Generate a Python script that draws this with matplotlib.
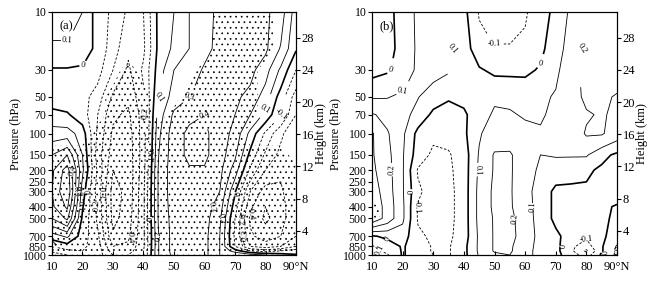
import numpy as np
import matplotlib
matplotlib.use('Agg')
import matplotlib.pyplot as plt

plt.rcParams['font.family'] = ['Liberation Serif', 'DejaVu Serif']
plt.rcParams['hatch.color'] = 'black'
plt.rcParams['hatch.linewidth'] = 0.5

# grid: latitude (deg N) and pressure levels (hPa)
lat = [10, 15, 20, 25, 30, 35, 40, 45, 50, 55, 60, 65, 70, 75, 80, 85, 90]
plev = [1000, 925, 850, 700, 500, 400, 300, 200, 150, 100, 70, 50, 30, 20, 10]

# panel (a) correlation field, one row per pressure level (1000 -> 10 hPa)
r_a = [
    [-0.25, -0.2, -0.15, -0.15, -0.3, -0.3, -0.2, 0.2, 0.33, 0.35, 0.33, 0.2, 0.2, 0.15, 0.1, 0.05, 0.01],
    [-0.18, -0.12, -0.1, -0.15, -0.35, -0.35, -0.2, 0.2, 0.34, 0.36, 0.33, 0.2, 0.05, -0.1, -0.15, -0.1, -0.05],
    [-0.1, -0.05, -0.08, -0.15, -0.4, -0.38, -0.22, 0.2, 0.34, 0.36, 0.33, 0.2, -0.1, -0.3, -0.35, -0.3, -0.2],
    [0.05, 0.12, -0.05, -0.18, -0.48, -0.42, -0.22, 0.2, 0.34, 0.36, 0.33, 0.2, -0.12, -0.38, -0.45, -0.4, -0.3],
    [0.3, 0.42, -0.02, -0.22, -0.53, -0.45, -0.22, 0.22, 0.34, 0.37, 0.34, 0.22, -0.1, -0.42, -0.52, -0.45, -0.3],
    [0.38, 0.52, 0.01, -0.22, -0.54, -0.46, -0.22, 0.22, 0.35, 0.38, 0.35, 0.25, -0.05, -0.38, -0.5, -0.45, -0.3],
    [0.4, 0.6, 0.05, -0.25, -0.54, -0.47, -0.22, 0.22, 0.36, 0.38, 0.37, 0.3, 0.01, -0.3, -0.45, -0.42, -0.3],
    [0.38, 0.55, 0.12, -0.22, -0.5, -0.47, -0.24, 0.22, 0.36, 0.39, 0.39, 0.33, 0.15, -0.12, -0.3, -0.38, -0.33],
    [0.3, 0.4, 0.1, -0.25, -0.45, -0.46, -0.25, 0.2, 0.36, 0.42, 0.42, 0.35, 0.22, -0.03, -0.22, -0.33, -0.35],
    [0.15, 0.15, 0.05, -0.22, -0.42, -0.45, -0.25, 0.18, 0.36, 0.42, 0.42, 0.35, 0.27, 0.07, -0.12, -0.28, -0.38],
    [0.03, 0.01, -0.05, -0.2, -0.38, -0.42, -0.25, 0.15, 0.32, 0.38, 0.4, 0.35, 0.3, 0.2, 0.07, -0.1, -0.3],
    [-0.05, -0.05, -0.06, -0.15, -0.32, -0.38, -0.22, 0.1, 0.25, 0.3, 0.33, 0.33, 0.32, 0.27, 0.15, -0.05, -0.25],
    [-0.01, -0.01, -0.02, -0.06, -0.2, -0.32, -0.18, 0.05, 0.2, 0.26, 0.31, 0.33, 0.35, 0.33, 0.24, 0.08, -0.1],
    [0.08, 0.08, 0.06, -0.03, -0.15, -0.28, -0.22, 0.03, 0.12, 0.2, 0.28, 0.32, 0.36, 0.35, 0.32, 0.19, 0.01],
    [0.15, 0.15, 0.1, -0.05, -0.12, -0.22, -0.2, 0.03, 0.1, 0.2, 0.27, 0.32, 0.35, 0.35, 0.32, 0.25, 0.05],
]

# panel (a) significance (1 = stippled)
sig_a = [
    [1, 1, 1, 1, 1, 1, 1, 1, 1, 1, 1, 1, 1, 1, 1, 1, 1],
    [1, 1, 1, 1, 1, 1, 1, 1, 1, 1, 1, 1, 1, 1, 1, 1, 1],
    [1, 1, 1, 1, 1, 1, 1, 1, 1, 1, 1, 1, 1, 1, 1, 1, 1],
    [1, 1, 1, 1, 1, 1, 1, 1, 1, 1, 1, 1, 1, 1, 1, 1, 1],
    [1, 1, 1, 1, 1, 1, 1, 1, 1, 1, 1, 1, 1, 1, 1, 1, 1],
    [1, 1, 1, 1, 1, 1, 1, 1, 1, 1, 1, 1, 1, 1, 1, 1, 1],
    [1, 1, 1, 1, 1, 1, 1, 1, 1, 1, 1, 1, 1, 1, 1, 1, 1],
    [1, 1, 1, 1, 1, 1, 1, 1, 1, 1, 1, 1, 1, 1, 1, 1, 1],
    [1, 1, 1, 1, 1, 1, 1, 1, 1, 1, 1, 1, 1, 1, 1, 1, 0],
    [0, 0, 0, 1, 1, 1, 1, 1, 1, 1, 1, 1, 1, 0, 0, 0, 0],
    [0, 0, 0, 0, 1, 1, 1, 0, 1, 1, 1, 1, 1, 1, 0, 0, 0],
    [0, 0, 0, 0, 1, 1, 1, 0, 0, 1, 1, 1, 1, 1, 0, 0, 0],
    [0, 0, 0, 0, 0, 1, 0, 0, 0, 0, 1, 1, 1, 1, 0, 0, 0],
    [0, 0, 0, 0, 0, 0, 0, 0, 0, 0, 0, 1, 1, 1, 1, 0, 0],
    [0, 0, 0, 0, 0, 0, 0, 0, 0, 0, 0, 1, 1, 1, 1, 0, 0],
]

# panel (b) correlation field
r_b = [
    [-0.12, -0.11, 0.01, -0.05, -0.1, -0.11, -0.03, 0.11, 0.18, 0.2, 0.15, 0.05, 0.03, -0.05, -0.15, 0.02, 0.12],
    [-0.12, -0.08, 0.01, -0.05, -0.11, -0.11, -0.03, 0.12, 0.21, 0.21, 0.15, 0.05, 0.03, -0.08, -0.22, -0.01, 0.12],
    [-0.11, -0.05, 0.01, -0.05, -0.11, -0.11, -0.03, 0.12, 0.21, 0.21, 0.16, 0.05, 0.03, -0.08, -0.15, -0.01, 0.11],
    [-0.01, 0.02, 0.05, -0.08, -0.12, -0.12, -0.05, 0.12, 0.21, 0.22, 0.17, 0.06, 0.02, -0.04, -0.08, -0.02, 0.05],
    [0.38, 0.26, 0.12, -0.11, -0.14, -0.13, -0.05, 0.13, 0.21, 0.22, 0.16, 0.05, -0.02, -0.04, -0.04, -0.02, 0.02],
    [0.38, 0.26, 0.12, -0.11, -0.15, -0.13, -0.05, 0.13, 0.22, 0.21, 0.15, 0.05, -0.02, -0.03, -0.03, -0.02, 0.01],
    [0.35, 0.25, 0.11, -0.08, -0.15, -0.13, -0.05, 0.13, 0.22, 0.21, 0.14, 0.05, -0.02, -0.02, -0.02, -0.03, -0.05],
    [0.32, 0.24, 0.11, -0.11, -0.14, -0.12, -0.05, 0.12, 0.21, 0.21, 0.15, 0.08, 0.04, 0.03, 0.02, -0.02, -0.05],
    [0.31, 0.23, 0.11, -0.05, -0.12, -0.11, -0.05, 0.11, 0.21, 0.21, 0.15, 0.1, 0.11, 0.11, 0.11, 0.03, -0.02],
    [0.31, 0.21, 0.12, -0.03, -0.08, -0.07, -0.02, 0.09, 0.15, 0.16, 0.13, 0.11, 0.12, 0.14, 0.21, 0.21, 0.15],
    [0.21, 0.17, 0.14, 0.06, -0.02, -0.04, -0.02, 0.07, 0.11, 0.11, 0.09, 0.09, 0.12, 0.15, 0.19, 0.21, 0.18],
    [0.09, 0.095, 0.12, 0.105, 0.04, 0.01, 0.03, 0.07, 0.09, 0.08, 0.07, 0.08, 0.11, 0.16, 0.22, 0.22, 0.19],
    [-0.03, -0.01, 0.04, 0.12, 0.14, 0.11, 0.05, 0.01, -0.02, -0.02, -0.02, 0.01, 0.08, 0.16, 0.23, 0.25, 0.25],
    [-0.05, -0.02, 0.02, 0.12, 0.15, 0.12, 0.04, -0.05, -0.09, -0.09, -0.08, -0.02, 0.05, 0.15, 0.22, 0.25, 0.25],
    [-0.05, -0.03, 0.04, 0.12, 0.15, 0.13, 0.03, -0.11, -0.15, -0.15, -0.11, -0.05, 0.03, 0.12, 0.21, 0.24, 0.25],
]

# panel (b) significance
sig_b = [[0] * 17 for _ in range(15)]
sig_b[4][0] = 1
sig_b[5][0] = 1

p_ticks = [10, 30, 50, 70, 100, 150, 200, 250, 300, 400, 500, 700, 850, 1000]
x_ticks = [10, 20, 30, 40, 50, 60, 70, 80, 90]
x_labels = ['10', '20', '30', '40', '50', '60', '70', '80', '90°N']
z_ticks = [4, 8, 12, 16, 20, 24, 28]


def fmt(v):
    return '0' if abs(v) < 1e-6 else '%.1f' % v


def panel(ax, r, sig, tag, lab):
    ax.contourf(lat, plev, np.array(sig), levels=[0.5, 1.5], colors='none', hatches=['...'])
    levels = np.round(np.arange(-6, 7) * 0.1, 1)
    lw = [1.2 if l == 0 else 0.6 for l in levels]
    ls = ['solid' if l >= 0 else (0, (3, 2)) for l in levels]
    cs = ax.contour(lat, plev, np.array(r), levels=levels, colors='k',
                    linewidths=lw, linestyles=ls)
    ax.clabel(cs, [l for l in cs.levels if round(l, 1) in lab], fmt=fmt,
              fontsize=6, inline=True, inline_spacing=1)
    ax.set_yscale('log')
    ax.set_ylim(1000, 10)
    ax.set_xlim(10, 90)
    ax.set_yticks(p_ticks)
    ax.set_yticklabels([str(p) for p in p_ticks])
    ax.yaxis.set_minor_locator(matplotlib.ticker.NullLocator())
    ax.set_xticks(x_ticks)
    ax.set_xticklabels(x_labels)
    ax.tick_params(axis='x', direction='in', length=3, labelsize=9, pad=4)
    ax.tick_params(axis='y', direction='out', length=3, labelsize=8.5, pad=1)
    ax.set_ylabel('Pressure (hPa)', fontsize=9, labelpad=1)
    ax.text(0.03, 0.965, tag, transform=ax.transAxes, fontsize=9, va='top', ha='left')
    ax2 = ax.twinx()
    ax2.set_ylim(1.0, 31.2)
    ax2.set_yticks(z_ticks)
    ax2.set_yticklabels([str(z) for z in z_ticks])
    ax2.tick_params(axis='y', direction='out', length=3, labelsize=9, pad=1)
    ax2.set_ylabel('Height (km)', fontsize=9, labelpad=1)


fig = plt.figure(figsize=(6.53, 2.81), dpi=100)
ax_a = fig.add_axes([0.0796, 0.0925, 0.3737, 0.8648])
ax_b = fig.add_axes([0.5697, 0.0925, 0.3752, 0.8648])
panel(ax_a, r_a, sig_a, '(a)', [-0.4, -0.3, -0.2, -0.1, 0.0, 0.1, 0.2, 0.3, 0.4])
panel(ax_b, r_b, sig_b, '(b)', [-0.1, 0.0, 0.1, 0.2])
fig.savefig('out.png', dpi=100)
